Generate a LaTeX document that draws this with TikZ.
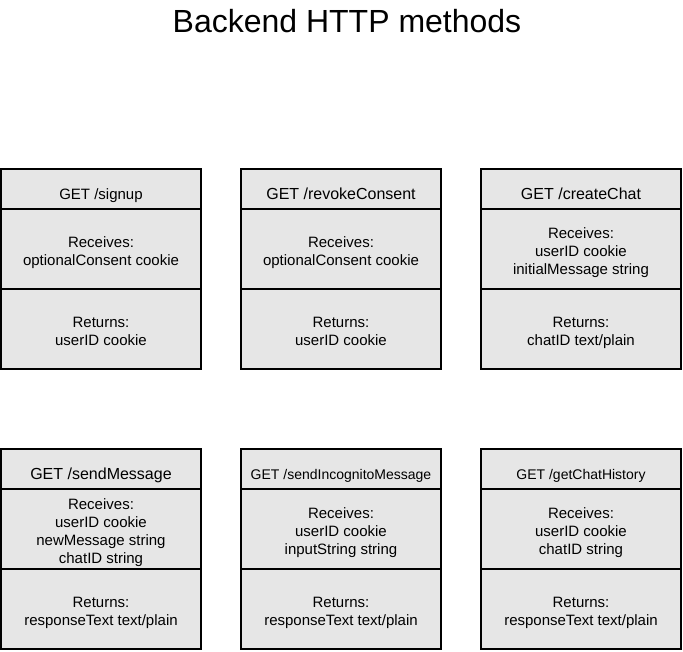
\documentclass[tikz,border=0pt]{standalone}
\usepackage{fontspec}
\setmainfont{Liberation Sans}
\usepackage{xcolor}
\usepackage{tikz}
\definecolor{cellgray}{HTML}{E6E6E6}
\newcommand{\celltop}{\rule{0pt}{15pt}}

\begin{document}
\begin{tikzpicture}[x=1pt,y=-1pt,
	cell/.style={draw=black, line width=2.6pt, fill=cellgray, minimum width=200pt,
		align=center, inner sep=0pt, font=\fontsize{15}{18}\selectfont},
	headcell/.style={cell, minimum height=40pt, text height=21pt, text depth=0pt},
	bodycell/.style={cell, minimum height=80pt, text depth=0pt},
	bighead/.style={font=\fontsize{16}{18}\selectfont},
	smallhead/.style={font=\fontsize{14}{18}\selectfont}]
	\useasboundingbox (0,0) rectangle (683,651);
	\node[font=\fontsize{32}{36}\selectfont] (title) at (347,21) {Backend HTTP methods};
	% first row
	\node[bodycell] (signuprecv) at (101,249) {\celltop Receives:\\optionalConsent cookie};
	\node[bodycell] (signupret) at (101,329) {\celltop Returns:\\userID cookie};
	\node[headcell] (signup) at (101,189) {GET /signup};
	\node[bodycell] (revokerecv) at (341,249) {\celltop Receives:\\optionalConsent cookie};
	\node[bodycell] (revokeret) at (341,329) {\celltop Returns:\\userID cookie};
	\node[headcell, bighead] (revoke) at (341,189) {GET /revokeConsent};
	\node[bodycell] (createrecv) at (581,249) {\celltop Receives:\\userID cookie\\initialMessage string};
	\node[bodycell] (createret) at (581,329) {\celltop Returns:\\chatID text/plain};
	\node[headcell, bighead] (create) at (581,189) {GET /createChat};
	% second row
	\node[bodycell] (sendrecv) at (101,529) {\celltop Receives:\\userID cookie\\newMessage string\\chatID string};
	\node[bodycell] (sendret) at (101,609) {\celltop Returns:\\responseText text/plain};
	\node[headcell, bighead] (send) at (101,469) {GET /sendMessage};
	\node[bodycell] (incognitorecv) at (341,529) {\celltop Receives:\\userID cookie\\inputString string};
	\node[bodycell] (incognitoret) at (341,609) {\celltop Returns:\\responseText text/plain};
	\node[headcell, smallhead] (incognito) at (341,469) {GET /sendIncognitoMessage};
	\node[bodycell] (historyrecv) at (581,529) {\celltop Receives:\\userID cookie\\chatID string};
	\node[bodycell] (historyret) at (581,609) {\celltop Returns:\\responseText text/plain};
	\node[headcell, smallhead] (history) at (581,469) {GET /getChatHistory};
\end{tikzpicture}
\end{document}
